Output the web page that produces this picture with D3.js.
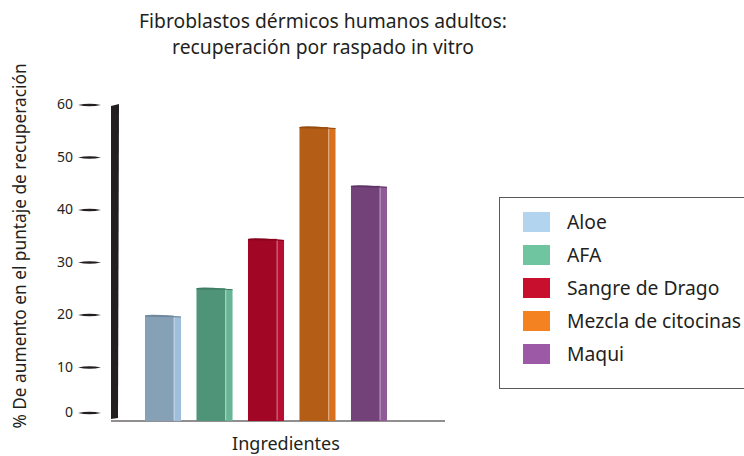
<!DOCTYPE html>
<html>
<head>
<meta charset="utf-8">
<script src="https://cdn.jsdelivr.net/npm/d3@7"></script>
<style>
  html, body { margin: 0; padding: 0; background: #fff; }
  svg { display: block; font-family: "Noto Sans", "Open Sans", sans-serif; }
</style>
</head>
<body>
<svg id="chart" width="744" height="456"></svg>
<script>
// Ingredients and their % increase in scratch-recovery score
const categories = ["Aloe", "AFA", "Sangre de Drago", "Mezcla de citocinas", "Maqui"];
const values = [19.9, 25.1, 34.5, 55.8, 44.6];
const yTicks = [0, 10, 20, 30, 40, 50, 60];

// Legend swatch colours, and the shaded front / side faces of each bar
const legendColors = ["#b3d4ee", "#6fc5a0", "#c8102e", "#f58220", "#9b59a6"];
const frontColors = ["#86a0b6", "#4f9479", "#a10624", "#b35d17", "#734279"];
const sideColors  = ["#a0bdd9", "#68b596", "#b50e30", "#d5711f", "#8f5b97"];
const topColors   = ["#6f889e", "#3f7d64", "#85041c", "#964c10", "#5d3363"];

const titleLines = ["Fibroblastos dérmicos humanos adultos:", "recuperación por raspado in vitro"];
const yTitle = "% De aumento en el puntaje de recuperación";
const xTitle = "Ingredientes";

const svg = d3.select("#chart");

const x = d3.scaleBand().domain(categories).range([145, 387]).paddingInner(0.3).paddingOuter(0);
const y = d3.scaleLinear().domain([0, 60]).range([420, 105]);
const color = d3.scaleOrdinal().domain(categories).range(legendColors);

// Title
svg.append("text")
  .attr("x", 323).attr("y", 28)
  .attr("text-anchor", "middle")
  .attr("font-size", 19.3)
  .attr("fill", "#231f20")
  .selectAll("tspan").data(titleLines).join("tspan")
  .attr("x", 323).attr("dy", (d, i) => i ? 25.5 : 0)
  .text(d => d);

// Heavy vertical axis bar
svg.append("path")
  .attr("d", `M111,${y(60) + 1} L119,${y(60) - 1} L118,${y(0) - 2} L111,${y(0) - 1} Z`)
  .attr("fill", "#231f20");

// Baseline
svg.append("line")
  .attr("x1", 111).attr("x2", 445)
  .attr("y1", y(0) + 1).attr("y2", y(0) + 1)
  .attr("stroke", "#231f20").attr("stroke-width", 1.2);

// Y axis: labels from d3.axisLeft, with brush-stroke tick marks
const yAxis = svg.append("g")
  .attr("transform", "translate(78,0)")
  .call(d3.axisLeft(y).tickValues(yTicks).tickSize(0).tickPadding(5));
yAxis.select(".domain").remove();
yAxis.selectAll(".tick")
  .attr("transform", d => `translate(0,${d === 0 ? y(d) - 7 : y(d)})`); // lift the zero tick clear of the baseline
yAxis.selectAll(".tick text")
  .attr("font-family", "'Noto Sans', sans-serif")
  .attr("font-size", 14)
  .attr("fill", "#231f20");
yAxis.selectAll(".tick").append("path")
  .attr("d", "M0,0 Q11.5,-2.6 23,0 Q11.5,2.6 0,0 Z")
  .attr("fill", "#231f20");

// Bars: front face, side face and a thin top cap
const bars = svg.append("g").selectAll("g").data(categories).join("g");
const frontW = d => x.bandwidth() * 0.8;
bars.append("rect")
  .attr("x", d => x(d))
  .attr("y", (d, i) => y(values[i]))
  .attr("width", frontW)
  .attr("height", (d, i) => y(0) - y(values[i]) + 1)
  .attr("fill", (d, i) => frontColors[i]);
bars.append("rect")
  .attr("x", d => x(d) + frontW(d))
  .attr("y", (d, i) => y(values[i]) + 1)
  .attr("width", d => x.bandwidth() - frontW(d))
  .attr("height", (d, i) => y(0) - y(values[i]))
  .attr("fill", (d, i) => sideColors[i]);
bars.append("line")
  .attr("x1", d => x(d) + frontW(d) + 0.5)
  .attr("x2", d => x(d) + frontW(d) + 0.5)
  .attr("y1", (d, i) => y(values[i]) + 1)
  .attr("y2", y(0))
  .attr("stroke", "#ffffff").attr("stroke-opacity", 0.35).attr("stroke-width", 1);
bars.append("path")
  .attr("d", (d, i) => {
    const x0 = x(d), x1 = x(d) + x.bandwidth(), t = y(values[i]);
    return `M${x0},${t} Q${x0 + 4},${t - 1.6} ${x0 + frontW(d)},${t + 0.4} L${x1},${t + 1} L${x1},${t + 2} L${x0 + frontW(d)},${t + 1.6} L${x0},${t + 1.2} Z`;
  })
  .attr("fill", (d, i) => topColors[i]);

// Axis titles
svg.append("text")
  .attr("transform", "translate(26,246) rotate(-90)")
  .attr("text-anchor", "middle")
  .attr("font-size", 17.3)
  .attr("fill", "#231f20")
  .text(yTitle);
svg.append("text")
  .attr("x", 286).attr("y", 450)
  .attr("text-anchor", "middle")
  .attr("font-size", 18)
  .attr("fill", "#231f20")
  .text(xTitle);

// Legend
const legend = svg.append("g");
legend.append("rect")
  .attr("x", 499.5).attr("y", 197.5)
  .attr("width", 260).attr("height", 191)
  .attr("fill", "none").attr("stroke", "#58595b").attr("stroke-width", 1);
const items = legend.selectAll("g.item").data(categories).join("g")
  .attr("class", "item")
  .attr("transform", (d, i) => `translate(523,${212 + i * 33})`);
items.append("rect")
  .attr("width", 27).attr("height", 20)
  .attr("fill", d => color(d));
items.append("text")
  .attr("x", 44).attr("y", 16.5)
  .attr("font-size", 19.3)
  .attr("fill", "#231f20")
  .text(d => d);
</script>
</body>
</html>
